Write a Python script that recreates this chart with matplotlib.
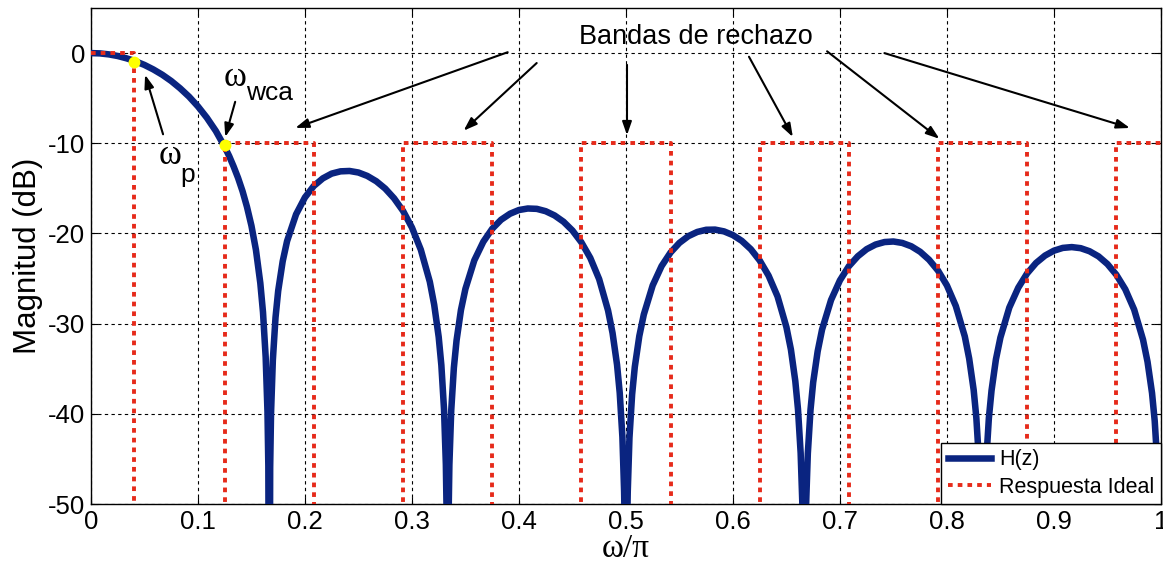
import matplotlib
matplotlib.use('Agg')
import matplotlib.pyplot as plt

plt.rcParams['font.family'] = ['Liberation Sans', 'DejaVu Sans']
plt.rcParams['axes.unicode_minus'] = False

# |H(z)| in dB (nulls pushed well below the axis)
w_main = [0, 0.0083, 0.0167, 0.025, 0.0333, 0.04, 0.05, 0.0583, 0.0667, 0.075, 0.0833, 0.0917,
          0.1, 0.1083, 0.1167, 0.125, 0.1292, 0.1333, 0.1375, 0.1417, 0.1458, 0.15, 0.1542,
          0.1583, 0.1608, 0.1633, 0.165, 0.1658, 0.1667]
db_main = [0, -0.03, -0.14, -0.32, -0.58, -0.83, -1.31, -1.81, -2.40, -3.09, -3.90, -4.83,
           -5.91, -7.16, -8.63, -10.40, -11.42, -12.56, -13.84, -15.32, -17.04, -19.14, -21.82,
           -25.51, -28.73, -33.71, -39.78, -45.82, -80]

w_lobe1 = [0.1675, 0.1683, 0.17, 0.1725, 0.175, 0.1792, 0.1833, 0.1917, 0.2, 0.2083, 0.2167,
           0.225, 0.2333, 0.2417, 0.25, 0.2583, 0.2667, 0.275, 0.2833, 0.2917, 0.3, 0.3083,
           0.3167, 0.3208, 0.325, 0.3275, 0.33, 0.3317, 0.3325, 0.3333]
db_lobe1 = [-45.96, -39.98, -34.05, -29.32, -26.36, -23.09, -20.85, -17.88, -16.00, -14.73, -13.89,
            -13.36, -13.11, -13.07, -13.24, -13.62, -14.21, -15.02, -16.10, -17.50, -19.34, -21.80,
            -25.35, -27.90, -31.47, -34.61, -39.52, -45.58, -51.6, -80]

w_lobe2 = [0.3342, 0.335, 0.3367, 0.3392, 0.3417, 0.3458, 0.35, 0.3583, 0.3667, 0.375, 0.3833,
           0.3917, 0.4, 0.4083, 0.4167, 0.425, 0.4333, 0.4417, 0.45, 0.4583, 0.4667, 0.475,
           0.4833, 0.4875, 0.4917, 0.4942, 0.4967, 0.4983, 0.4992, 0.5]
db_lobe2 = [-51.66, -45.66, -39.68, -34.88, -31.86, -28.49, -26.14, -22.98, -20.92, -19.48, -18.48,
            -17.81, -17.40, -17.23, -17.27, -17.53, -18.00, -18.70, -19.67, -20.97, -22.71, -25.07,
            -28.54, -31.04, -34.56, -37.67, -42.56, -48.60, -54.6, -80]

w_lobe3 = [0.5008, 0.5017, 0.5033, 0.5058, 0.5083, 0.5125, 0.5167, 0.525, 0.5333, 0.5417, 0.55,
           0.5583, 0.5667, 0.575, 0.5833, 0.5917, 0.6, 0.6083, 0.6167, 0.625, 0.6333, 0.6417,
           0.65, 0.6542, 0.6583, 0.6608, 0.6633, 0.665, 0.6658, 0.6667]
db_lobe3 = [-54.66, -48.64, -42.65, -37.83, -34.79, -31.38, -28.99, -25.76, -23.62, -22.11, -21.04,
            -20.30, -19.83, -19.59, -19.57, -19.77, -20.18, -20.82, -21.74, -22.99, -24.67, -26.98,
            -30.39, -32.87, -36.37, -39.47, -44.34, -50.38, -56.4, -80]

w_lobe4 = [0.6675, 0.6683, 0.67, 0.6725, 0.675, 0.6792, 0.6833, 0.6917, 0.7, 0.7083, 0.7167,
           0.725, 0.7333, 0.7417, 0.75, 0.7583, 0.7667, 0.775, 0.7833, 0.7917, 0.8, 0.8083,
           0.8167, 0.8208, 0.825, 0.8275, 0.83, 0.8317, 0.8325, 0.8333]
db_lobe4 = [-56.42, -50.40, -44.40, -39.57, -36.51, -33.07, -30.66, -27.38, -25.20, -23.64, -22.53,
            -21.74, -21.23, -20.95, -20.89, -21.05, -21.42, -22.03, -22.91, -24.12, -25.76, -28.04,
            -31.41, -33.87, -37.35, -40.44, -45.30, -51.32, -57.3, -80]

w_lobe5 = [0.8342, 0.835, 0.8367, 0.8392, 0.8417, 0.8458, 0.85, 0.8583, 0.8667, 0.875, 0.8833,
           0.8917, 0.9, 0.9083, 0.9167, 0.925, 0.9333, 0.9417, 0.95, 0.9583, 0.9667, 0.975,
           0.9833, 0.9875, 0.9917, 0.9942, 0.9967, 0.9983, 0.9992, 1.0]
db_lobe5 = [-57.36, -51.34, -45.33, -40.49, -37.42, -33.96, -31.54, -28.22, -26.01, -24.42, -23.27,
            -22.45, -21.91, -21.60, -21.51, -21.63, -21.97, -22.54, -23.39, -24.57, -26.19, -28.44,
            -31.78, -34.23, -37.69, -40.77, -45.62, -51.6, -57.6, -80]

# ideal response: passband to 0.04, stop bands at -10 dB, -inf elsewhere
ideal_w = [0, 0.04, 0.04, 0.125, 0.125, 0.2083, 0.2083, 0.2917, 0.2917, 0.375, 0.375,
           0.4583, 0.4583, 0.5417, 0.5417, 0.625, 0.625, 0.7083, 0.7083, 0.7917, 0.7917,
           0.875, 0.875, 0.9583, 0.9583, 1.0]
ideal_db = [0, 0, -100, -100, -10, -10, -100, -100, -10, -10, -100,
            -100, -10, -10, -100, -100, -10, -10, -100, -100, -10,
            -10, -100, -100, -10, -10]

# marked points (omega_p, omega_wca)
mark_w = [0.04, 0.125]
mark_db = [-1.0, -10.2]

# arrows for "Bandas de rechazo": (start, end)
band_arrows = [((0.3895, 0.1), (0.191, -8.3)),
               ((0.4166, -1.1), (0.3483, -8.6)),
               ((0.501, -1.3), (0.501, -9.1)),
               ((0.615, -0.4), (0.656, -9.3)),
               ((0.688, 0.2), (0.793, -9.5)),
               ((0.7416, 0.0), (0.971, -8.3))]

blue = '#0a2480'
red = '#e62a1a'
serif = ['Liberation Serif', 'DejaVu Serif']
arrow_style = dict(arrowstyle='-|>,head_length=0.8,head_width=0.28',
                   color='k', lw=1.5, shrinkA=0, shrinkB=0)

w = w_main + w_lobe1 + w_lobe2 + w_lobe3 + w_lobe4 + w_lobe5
db = db_main + db_lobe1 + db_lobe2 + db_lobe3 + db_lobe4 + db_lobe5

fig = plt.figure(figsize=(11.63, 5.69), dpi=100)
ax = fig.add_axes([0.0782, 0.1142, 0.920, 0.8717])

ax.plot(w, db, color=blue, lw=4.7, label='H(z)', zorder=3, solid_joinstyle='round')
ax.plot(ideal_w, ideal_db, color=red, lw=2.8, linestyle=(0, (1.2, 1.3)),
        label='Respuesta Ideal', zorder=4)
ax.plot(mark_w, mark_db, 'o', color='#ffff00', markersize=8.5, markeredgewidth=0, zorder=6)

ax.set_xlim(0, 1)
ax.set_ylim(-50, 5)
ax.set_xticks([0, 0.1, 0.2, 0.3, 0.4, 0.5, 0.6, 0.7, 0.8, 0.9, 1])
ax.set_xticklabels(['0', '0.1', '0.2', '0.3', '0.4', '0.5', '0.6', '0.7', '0.8', '0.9', '1'])
ax.set_yticks([-50, -40, -30, -20, -10, 0])
ax.grid(True, color='k', lw=0.8, linestyle=(0, (3, 3)))
ax.tick_params(direction='in', top=True, right=True, length=5, labelsize=18.5, pad=4)
for s in ax.spines.values():
    s.set_linewidth(1.0)

ax.set_xlabel('ω/π', family=serif, fontsize=24, labelpad=0)
ax.set_ylabel('Magnitud (dB)', fontsize=22.5, labelpad=4)

# annotations
ax.text(0.565, 1.8, 'Bandas de rechazo', fontsize=19.5, ha='center', va='center')
for start, end in band_arrows:
    ax.annotate('', xy=end, xytext=start, arrowprops=arrow_style, zorder=5)

ax.annotate('', xy=(0.0506, -2.4), xytext=(0.0674, -9.0), arrowprops=arrow_style)
ax.text(0.0738, -11.3, 'ω', family=serif, fontsize=25, ha='center', va='center')
ax.text(0.0907, -13.5, 'p', fontsize=19, ha='center', va='center')

ax.annotate('', xy=(0.1255, -9.3), xytext=(0.1348, -5.4), arrowprops=arrow_style)
ax.text(0.1346, -2.7, 'ω', family=serif, fontsize=25, ha='center', va='center')
ax.text(0.1673, -4.4, 'wca', fontsize=19, ha='center', va='center')

leg = ax.legend(loc='lower right', borderaxespad=0, fancybox=False, framealpha=1,
                edgecolor='k', fontsize=15.5, handlelength=2.0, handletextpad=0.4,
                borderpad=0.3, labelspacing=0.3)
leg.get_frame().set_linewidth(1.0)
leg.set_zorder(10)

fig.savefig('out.png', dpi=100)
